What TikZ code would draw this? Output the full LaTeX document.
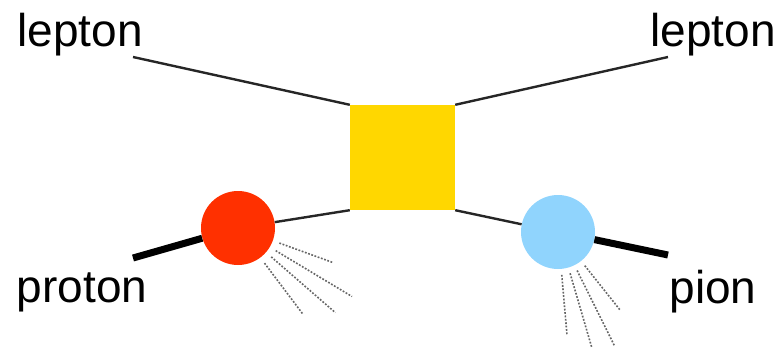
\documentclass[tikz,border=0pt]{standalone}
\usepackage{fontspec}
\setmainfont{Liberation Sans}
\definecolor{vtxyellow}{HTML}{FFD700}
\definecolor{protred}{HTML}{FF3000}
\definecolor{pionblue}{HTML}{90D4FD}
\tikzset{
  lbl/.style={font=\fontsize{46}{50}\selectfont, inner sep=0pt},
  thinline/.style={black!85, line width=2.4pt},
  thickline/.style={black, line width=7pt},
  jet/.style={black!60, line width=1.6pt, dash pattern=on 1.8pt off 1.6pt},
  blob/.style={circle, minimum size=74pt, inner sep=0pt}
}
\begin{document}
\begin{tikzpicture}[x=1pt, y=-1pt]
  \useasboundingbox (0,0) rectangle (781,353);
  \node[fill=vtxyellow, minimum size=105pt, inner sep=0pt] (vertex) at (402.5,157.5) {};
  \node[blob, fill=protred] (target) at (238,228) {};
  \node[blob, fill=pionblue] (pion) at (558,232) {};
  \node[lbl] (leptonin) at (80,35) {lepton};
  \node[lbl] (leptonout) at (713,35) {lepton};
  \node[lbl] (protonlbl) at (82,292) {proton};
  \node[lbl] (pionlbl) at (713,292) {pion};
  \coordinate (linend) at (133,57);
  \coordinate (loutend) at (668,57);
  \coordinate (pinend) at (133,258);
  \coordinate (pionend) at (668,255);
  \draw[thinline] (linend) -- (vertex.north west);
  \draw[thinline] (vertex.north east) -- (loutend);
  \draw[thinline] (target) -- (vertex.south west);
  \draw[thinline] (vertex.south east) -- (pion);
  \draw[thickline] (pinend) -- (target);
  \draw[thickline] (pion) -- (pionend);
  \foreach \a/\l in {20/101, 31/133, 41/129, 53/107} {
    \draw[jet] (target.center) ++(\a:44) -- ++(\a:\l-44);
  }
  \foreach \a/\l in {51.5/100, 63.6/128, 73.7/121, 85/103} {
    \draw[jet] (pion.center) ++(\a:43) -- ++(\a:\l-43);
  }
\end{tikzpicture}
\end{document}
